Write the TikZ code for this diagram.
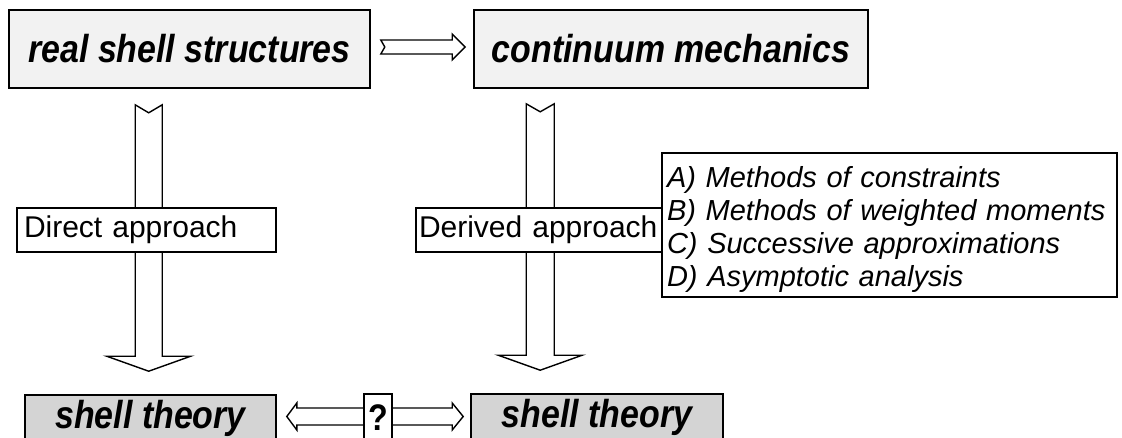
\documentclass[tikz,border=0pt]{standalone}
\usepackage{fontspec}
\setmainfont{Liberation Sans}
\newfontfamily\headfont[FakeStretch=0.87]{Liberation Sans}
\usetikzlibrary{calc}
\begin{document}
\begin{tikzpicture}[x=1pt,y=-1pt,
  titlebox/.style={draw, line width=1.6pt, inner sep=0pt,
    font=\headfont\fontsize{39}{44}\selectfont\bfseries\itshape},
  lightfill/.style={fill=black!5},
  darkfill/.style={fill=black!17},
  labelbox/.style={draw, fill=white, line width=1.2pt, inner ysep=0pt,
    align=left, font=\fontsize{30}{36}\selectfont},
  blockarrow/.style={draw, fill=white, line width=1.4pt, line join=miter},
]
\useasboundingbox (0,0) rectangle (1122,437);

% the four headline boxes
\node[titlebox, lightfill, minimum width=361pt, minimum height=78pt] (real) at (189.5,49) {real shell structures};
\node[titlebox, lightfill, minimum width=394pt, minimum height=78pt] (cont) at (671,49) {continuum mechanics};
\node[titlebox, darkfill, minimum width=251pt, minimum height=46pt] (shL) at (150.5,418) {shell theory};
\node[titlebox, darkfill, minimum width=252pt, minimum height=47pt] (shR) at (597,417.5) {shell theory};

% end points of the block arrows
\coordinate (la) at ($(real.south west)+(140.5,16)$);
\coordinate (lb) at ($(shL.north west)+(124.5,-23)$);
\coordinate (ra) at ($(cont.south west)+(67,15)$);
\coordinate (rb) at ($(shR.north west)+(70,-23)$);
\coordinate (ha) at ($(real.east)+(10,-2)$);
\coordinate (hb) at ($(cont.west)+(-8,-2)$);
\coordinate (da) at ($(shL.east)+(10,-1.5)$);
\coordinate (db) at ($(shR.west)+(-7,-1)$);

% horizontal arrow: real shell structures -> continuum mechanics
\draw[blockarrow] (ha) ++(0,-7) -- ($(hb)+(-13,-7)$) -- ($(hb)+(-13,-13)$) -- (hb)
  -- ($(hb)+(-13,13)$) -- ($(hb)+(-13,7)$) -- ($(ha)+(0,7)$) -- ($(ha)+(4,0)$) -- cycle;

% direct approach arrow
\draw[blockarrow] ($(la)+(-13.5,0)$) -- ($(la)+(0,8)$) -- ($(la)+(13.5,0)$)
  -- ($(lb)+(13.5,-15)$) -- ($(lb)+(42,-15)$) -- (lb) -- ($(lb)+(-42,-15)$)
  -- ($(lb)+(-13.5,-15)$) -- cycle;

% derived approach arrow
\draw[blockarrow] ($(ra)+(-14,0)$) -- ($(ra)+(0,8)$) -- ($(ra)+(14,0)$)
  -- ($(rb)+(14,-15)$) -- ($(rb)+(42,-15)$) -- (rb) -- ($(rb)+(-42,-15)$)
  -- ($(rb)+(-14,-15)$) -- cycle;

% double arrow between the two shell theories
\draw[blockarrow] (da) -- ($(da)+(10,-13.5)$) -- ($(da)+(10,-8.5)$)
  -- ($(db)+(-11,-8.5)$) -- ($(db)+(-11,-13.5)$) -- (db) -- ($(db)+(-11,13.5)$)
  -- ($(db)+(-11,8.5)$) -- ($(da)+(10,8.5)$) -- ($(da)+(10,13.5)$) -- cycle;
\node[draw, fill=white, line width=1.2pt, minimum width=28pt, minimum height=47pt,
  inner sep=0pt, text depth=0pt,
  font=\headfont\fontsize{37}{40}\selectfont\bfseries] (q) at (378,417.5) {?};

% labels on the arrows
\node[labelbox, inner xsep=7pt, text width=245pt, minimum height=44pt] (direct) at (146.5,230) {\mbox{Direct approach}};
\node[labelbox, inner xsep=3pt, text width=240pt, minimum height=44pt] (derived) at (539,230) {\mbox{Derived approach}};
\node[draw, fill=white, line width=1.2pt, minimum width=455pt, minimum height=144pt,
  inner xsep=5pt, text width=445pt, align=left,
  font=\fontsize{29}{33}\selectfont\itshape] (methods) at (889.5,225)
  {\rule{0pt}{31pt}\mbox{A) Methods of constraints}\\
   \mbox{B) Methods of weighted moments}\\
   \mbox{C) Successive approximations}\\
   \mbox{D) Asymptotic analysis}};
\end{tikzpicture}
\end{document}
